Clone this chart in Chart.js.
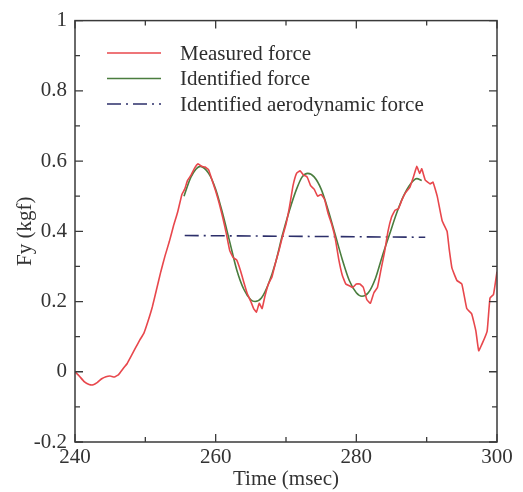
<!DOCTYPE html>
<html>
<head>
<meta charset="utf-8">
<script src="https://cdn.jsdelivr.net/npm/chart.js@4/dist/chart.umd.min.js"></script>
<style>
  html, body { margin: 0; padding: 0; background: #fff; }
  #wrap { width: 523px; height: 492px; position: relative; }
</style>
</head>
<body>
<div id="wrap"><canvas id="force-chart"></canvas></div>
<script>
"use strict";
// Measured force (red)
const measuredTime = [240.0, 240.6, 241.3, 242.0, 242.6, 243.2, 243.8, 244.4, 245.0, 245.6, 246.2, 246.8, 247.4, 248.0, 248.6, 249.2, 249.8, 250.4, 251.0, 251.6, 252.2, 252.8, 253.4, 254.0, 254.6, 255.2, 255.6, 256.0, 256.5, 257.0, 257.5, 258.0, 258.5, 259.0, 259.5, 260.0, 260.5, 261.0, 261.5, 262.0, 262.5, 263.0, 263.5, 264.0, 264.5, 265.0, 265.4, 265.8, 266.2, 266.6, 267.0, 267.5, 268.0, 268.5, 269.0, 269.5, 270.0, 270.5, 271.0, 271.5, 272.0, 272.5, 273.0, 273.5, 274.0, 274.5, 275.0, 275.5, 276.0, 276.5, 277.0, 277.5, 278.0, 278.5, 279.0, 279.5, 280.0, 280.5, 281.0, 281.5, 282.0, 282.5, 283.0, 283.5, 284.0, 284.5, 285.0, 285.5, 286.0, 286.5, 287.0, 287.6, 288.2, 288.6, 289.0, 289.3, 289.8, 290.5, 290.9, 291.5, 292.2, 292.9, 293.2, 293.6, 294.3, 295.0, 295.7, 296.4, 297.0, 297.4, 298.0, 298.6, 299.0, 299.5, 300.0];
const measuredForce = [0.000, -0.012, -0.028, -0.036, -0.037, -0.030, -0.020, -0.014, -0.012, -0.015, -0.008, 0.008, 0.023, 0.045, 0.068, 0.090, 0.110, 0.145, 0.185, 0.235, 0.285, 0.330, 0.370, 0.415, 0.455, 0.505, 0.520, 0.545, 0.560, 0.580, 0.592, 0.585, 0.583, 0.575, 0.545, 0.515, 0.480, 0.440, 0.395, 0.345, 0.325, 0.318, 0.290, 0.255, 0.222, 0.200, 0.180, 0.170, 0.195, 0.180, 0.215, 0.250, 0.270, 0.310, 0.345, 0.385, 0.420, 0.470, 0.530, 0.565, 0.572, 0.560, 0.555, 0.530, 0.520, 0.500, 0.505, 0.490, 0.450, 0.420, 0.380, 0.320, 0.275, 0.250, 0.245, 0.240, 0.250, 0.250, 0.240, 0.205, 0.195, 0.225, 0.240, 0.290, 0.340, 0.400, 0.440, 0.460, 0.465, 0.490, 0.510, 0.525, 0.560, 0.585, 0.565, 0.578, 0.546, 0.535, 0.540, 0.500, 0.430, 0.400, 0.350, 0.295, 0.260, 0.250, 0.180, 0.165, 0.116, 0.060, 0.085, 0.116, 0.210, 0.220, 0.285];

// Identified force (green)
const identifiedTime = [255.5, 256.5, 257.8, 259.0, 260.0, 261.0, 262.0, 263.0, 264.0, 265.0, 265.6, 266.5, 267.5, 268.5, 269.5, 270.5, 271.5, 272.3, 273.1, 274.0, 275.0, 276.0, 277.0, 278.0, 279.0, 280.0, 280.8, 281.7, 282.7, 283.7, 284.7, 285.7, 286.7, 287.7, 288.6, 289.3];
const identifiedForce = [0.500, 0.555, 0.585, 0.565, 0.520, 0.450, 0.370, 0.290, 0.235, 0.205, 0.200, 0.210, 0.250, 0.310, 0.390, 0.460, 0.520, 0.555, 0.565, 0.555, 0.520, 0.460, 0.390, 0.320, 0.260, 0.225, 0.215, 0.225, 0.265, 0.330, 0.390, 0.450, 0.500, 0.535, 0.550, 0.545];

// Identified aerodynamic force (dash-dot)
const aeroTime = [255.6, 289.8];
const aeroForce = [0.388, 0.383];

const xTickValues = [240, 260, 280, 300];
const yTickValues = [-0.2, 0, 0.2, 0.4, 0.6, 0.8, 1];

const axisColor = "#3a3a3a";
const fontFamily = "'Liberation Serif', 'DejaVu Serif', serif";

const toPoints = (xs, ys) => xs.map((x, i) => ({ x: x, y: ys[i] }));

const frameAndTicks = {
    id: "frameAndTicks",
    afterDatasetsDraw(chart) {
        const ctx = chart.ctx;
        const a = chart.chartArea;
        const xs = chart.scales.x;
        const ys = chart.scales.y;
        ctx.save();
        ctx.strokeStyle = axisColor;
        ctx.lineWidth = 1.5;
        ctx.strokeRect(a.left, a.top, a.right - a.left, a.bottom - a.top);
        ctx.lineWidth = 1.3;
        ctx.beginPath();
        for (let t = 240; t <= 300; t += 10) {
            const px = xs.getPixelForValue(t);
            const len = t % 20 === 0 ? 8 : 5;
            ctx.moveTo(px, a.bottom); ctx.lineTo(px, a.bottom - len);
            ctx.moveTo(px, a.top); ctx.lineTo(px, a.top + len);
        }
        for (let k = -2; k <= 10; k++) {
            const py = ys.getPixelForValue(k / 10);
            const len = k % 2 === 0 ? 8 : 5;
            ctx.moveTo(a.left, py); ctx.lineTo(a.left + len, py);
            ctx.moveTo(a.right, py); ctx.lineTo(a.right - len, py);
        }
        ctx.stroke();
        ctx.restore();
    },
};

const insideLegend = {
    id: "insideLegend",
    afterDraw(chart) {
        const ctx = chart.ctx;
        ctx.save();
        ctx.font = "21px " + fontFamily;
        ctx.textBaseline = "middle";
        chart.data.datasets.forEach((ds, i) => {
            const y = 53 + i * 25.5;
            ctx.strokeStyle = ds.borderColor;
            ctx.lineWidth = ds.borderWidth;
            ctx.setLineDash(ds.borderDash || []);
            ctx.beginPath();
            ctx.moveTo(107, y);
            ctx.lineTo(161, y);
            ctx.stroke();
            ctx.setLineDash([]);
            ctx.fillStyle = "#2e2e2e";
            ctx.fillText(ds.label, 180, y + 1);
        });
        ctx.restore();
    },
};

const chartConfig = {
    type: "line",
    data: {
        datasets: [
            {
                label: "Measured force",
                data: toPoints(measuredTime, measuredForce),
                borderColor: "#e8474c",
                borderWidth: 1.6,
                pointRadius: 0,
                tension: 0.1,
            },
            {
                label: "Identified force",
                data: toPoints(identifiedTime, identifiedForce),
                borderColor: "#4a7d3e",
                borderWidth: 1.6,
                pointRadius: 0,
                cubicInterpolationMode: "monotone",
            },
            {
                label: "Identified aerodynamic force",
                data: toPoints(aeroTime, aeroForce),
                borderColor: "#2c2f6a",
                borderWidth: 1.6,
                borderDash: [14, 5, 2, 5],
                pointRadius: 0,
            },
        ],
    },
    options: {
        responsive: true,
        maintainAspectRatio: false,
        animation: false,
        layout: { padding: { left: 0, top: 18, right: 26, bottom: 0 } },
        plugins: { legend: { display: false }, tooltip: { enabled: false } },
        scales: {
            x: {
                type: "linear",
                min: 240,
                max: 300,
                afterFit: (scale) => { scale.height = 50; },
                afterBuildTicks: (scale) => { scale.ticks = xTickValues.map((v) => ({ value: v })); },
                grid: { display: false, drawTicks: false },
                border: { display: false },
                ticks: { padding: 3, color: "#333", font: { family: fontFamily, size: 21 } },
                title: {
                    display: true,
                    text: "Time (msec)",
                    color: "#333",
                    font: { family: fontFamily, size: 21 },
                    padding: { top: 0, bottom: 0 },
                },
            },
            y: {
                min: -0.2,
                max: 1,
                afterFit: (scale) => { scale.width = 75; },
                afterBuildTicks: (scale) => { scale.ticks = yTickValues.map((v) => ({ value: v })); },
                grid: { display: false, drawTicks: false },
                border: { display: false },
                ticks: {
                    padding: 8,
                    color: "#333",
                    font: { family: fontFamily, size: 21 },
                    callback: (v) => String(Math.round(v * 10) / 10),
                },
                title: {
                    display: true,
                    text: "Fy (kgf)",
                    color: "#333",
                    font: { family: fontFamily, size: 21 },
                    padding: { top: 13, bottom: 0 },
                },
            },
        },
    },
    plugins: [frameAndTicks, insideLegend],
};

window.addEventListener("load", () => {
    const canvas = document.getElementById("force-chart");
    new Chart(canvas, chartConfig);
});
</script>
</body>
</html>
